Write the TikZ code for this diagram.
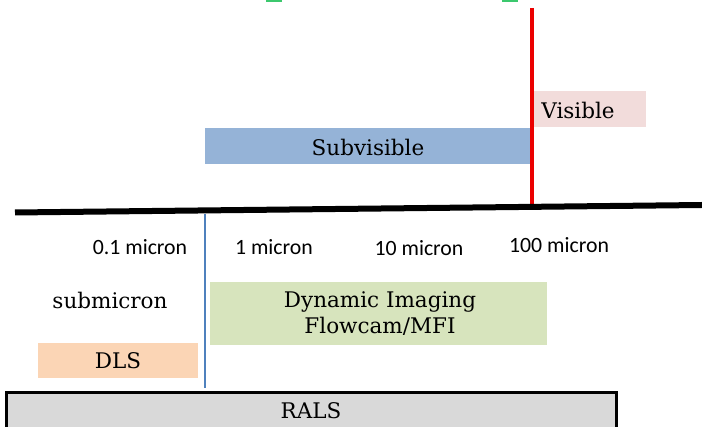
\documentclass[tikz,border=0pt]{standalone}
\usepackage{fontspec}
\setmainfont{DejaVu Serif}
\newfontfamily\labelfont{Carlito}
\definecolor{subblue}{RGB}{149,179,215}
\definecolor{vispink}{RGB}{242,220,219}
\definecolor{dyngreen}{RGB}{215,228,189}
\definecolor{dlspeach}{RGB}{251,213,181}
\definecolor{ralsgray}{RGB}{217,217,217}
\definecolor{redline}{RGB}{235,0,0}
\definecolor{blueline}{RGB}{79,129,189}
\definecolor{markgreen}{RGB}{60,200,110}
\begin{document}
\begin{tikzpicture}[x=1pt,y=-1pt,
  serif/.style={font=\fontsize{21.5}{25}\selectfont, text=black},
  sanslabel/.style={font=\labelfont\fontsize{21.8}{25}\selectfont, text=black},
  band/.style={draw=none, inner sep=0pt}]
\useasboundingbox (0,0) rectangle (702,427);
% small green marks at top
\fill[markgreen] (266,0) rectangle (282,2);
\fill[markgreen] (502,0.5) rectangle (518,2.5);
% bands
\node[band, fill=vispink, minimum width=114pt, minimum height=36pt, anchor=north west] (vis) at (532,91) {};
\node[serif] (vist) at (578,110) {Visible};
\node[band, fill=subblue, minimum width=327pt, minimum height=36pt, anchor=north west] (sub) at (205,128) {};
\node[serif] (subt) at (368,147) {Subvisible};
% red line
\coordinate (rtop) at (532,8);
\coordinate (rbot) at (532,205);
\draw[redline, line width=3.5pt] (rtop) -- (rbot);
% black axis
\coordinate (axl) at (15,212.5);
\coordinate (axr) at (702,205);
\draw[black, line width=6pt] (axl) -- (axr);
% blue line
\coordinate (btop) at (205,214);
\coordinate (bbot) at (205,388);
\draw[blueline, line width=2.5pt] (btop) -- (bbot);
% scale labels
\node[sanslabel] (l01) at (140,247) {0.1 micron};
\node[sanslabel] (l1) at (274,247) {1 micron};
\node[sanslabel] (l10) at (419,248) {10 micron};
\node[sanslabel] (l100) at (559,245) {100 micron};
\node[serif] (smic) at (110,300) {submicron};
% dynamic imaging
\node[band, fill=dyngreen, minimum width=337pt, minimum height=63pt, anchor=north west] (dyn) at (210,282) {};
\node[serif, align=center] (dynt) at (380,313.5) {Dynamic Imaging\\[1.5pt]Flowcam/MFI};
% DLS
\node[band, fill=dlspeach, minimum width=160pt, minimum height=35pt, anchor=north west] (dls) at (38,343) {};
\node[serif] (dlst) at (118,361) {DLS};
% RALS
\draw[black, line width=3pt, fill=ralsgray] (6.5,392.5) rectangle (616,440);
\node[serif] (rals) at (311,411) {RALS};
\end{tikzpicture}
\end{document}
